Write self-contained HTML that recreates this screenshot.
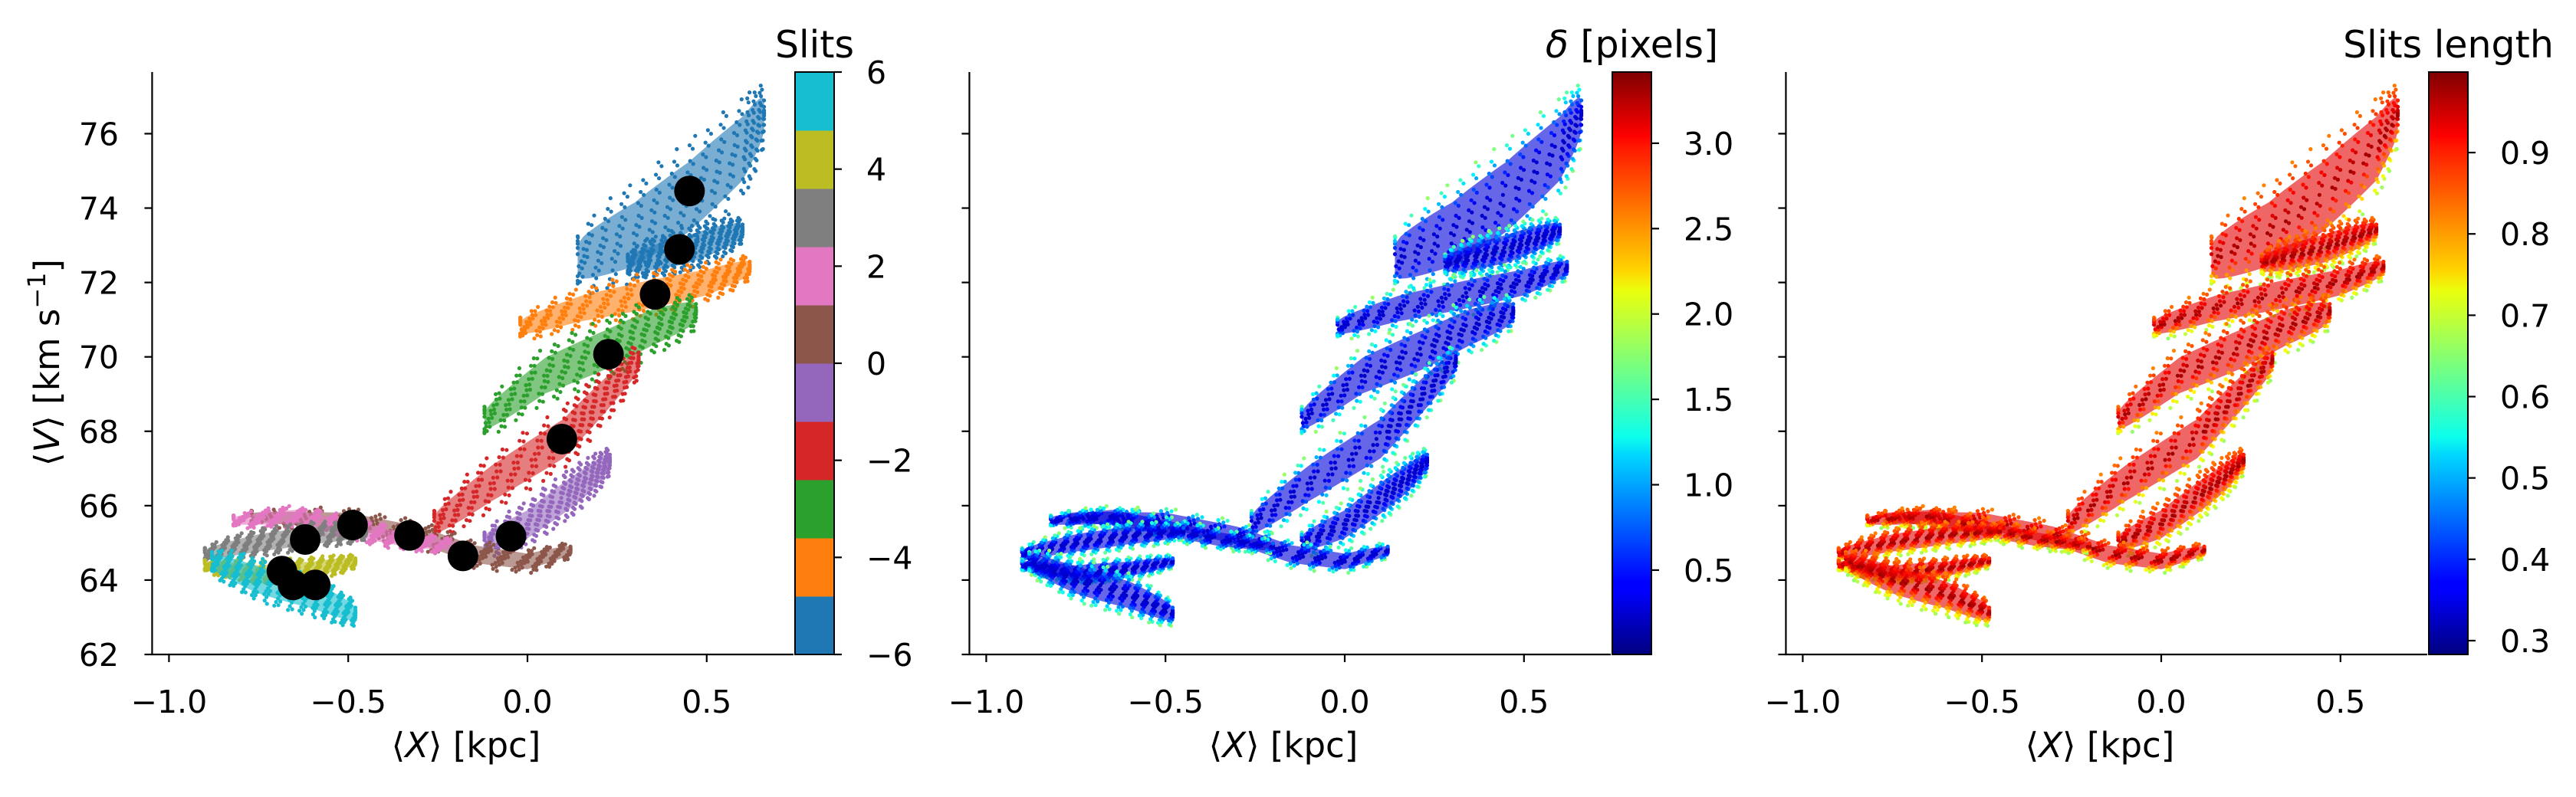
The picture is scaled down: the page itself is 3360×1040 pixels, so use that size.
<!DOCTYPE html>
<html><head><meta charset="utf-8"><title>Slits scatter panels</title>
<style>
html,body{margin:0;padding:0;background:#fff;}
svg{display:block;font-family:"DejaVu Sans","Liberation Sans",sans-serif;}
</style></head>
<body>
<svg id="fig" xmlns="http://www.w3.org/2000/svg" width="3360" height="1040" viewBox="0 0 3360 1040">
<defs>
<linearGradient id="jetgrad" x1="0" y1="1" x2="0" y2="0">
<stop offset="0" stop-color="#00007f"/><stop offset="0.11" stop-color="#0000ff"/><stop offset="0.125" stop-color="#0000ff"/>
<stop offset="0.34" stop-color="#00d4ff"/><stop offset="0.375" stop-color="#0dffeb"/><stop offset="0.5" stop-color="#7dff7a"/>
<stop offset="0.625" stop-color="#ebff0d"/><stop offset="0.66" stop-color="#ffd400"/><stop offset="0.875" stop-color="#ff1400"/>
<stop offset="0.89" stop-color="#ff0000"/><stop offset="1" stop-color="#7f0000"/>
</linearGradient>
</defs>
</svg>
<script>
// ---- data ----
const xTicks = [-1.0, -0.5, 0.0, 0.5];
const xTickLabels = ["\u22121.0", "\u22120.5", "0.0", "0.5"];
const yTicks = [62, 64, 66, 68, 70, 72, 74, 76];
const yTickLabels = ["62", "64", "66", "68", "70", "72", "74", "76"];
// band centerlines (kpc, km/s) and half widths (km/s)
const bandX = [
  [0.14, 0.30, 0.45, 0.60, 0.66],
  [0.28, 0.45, 0.60],
  [-0.02, 0.15, 0.35, 0.50, 0.62],
  [-0.12, 0.05, 0.22, 0.35, 0.47],
  [-0.26, -0.10, 0.10, 0.20, 0.31],
  [-0.12, 0.00, 0.10, 0.17, 0.23],
  [-0.77, -0.50, -0.30, -0.15, 0.00, 0.12],
  [-0.82, -0.65, -0.50, -0.35, -0.20],
  [-0.90, -0.75, -0.60, -0.45],
  [-0.90, -0.75, -0.60, -0.48],
  [-0.88, -0.75, -0.60, -0.48]
];
const bandV = [
  [72.6, 73.3, 74.3, 75.6, 76.5],
  [72.5, 72.9, 73.4],
  [70.8, 71.3, 71.7, 72.0, 72.4],
  [68.3, 69.5, 70.2, 70.8, 71.2],
  [65.5, 66.6, 67.8, 68.8, 69.9],
  [65.0, 65.5, 66.2, 66.7, 67.2],
  [65.7, 65.6, 65.2, 64.7, 64.5, 64.8],
  [65.6, 65.7, 65.4, 65.1, 64.9],
  [64.7, 65.0, 65.2, 65.3],
  [64.4, 64.2, 64.3, 64.5],
  [64.5, 64.0, 63.6, 63.1]
];
const bandHW = [1.25, 0.5, 0.5, 0.7, 0.7, 0.55, 0.32, 0.27, 0.32, 0.27, 0.5];
const bandColor = ["#1f77b4","#1f77b4","#ff7f0e","#2ca02c","#d62728","#9467bd","#8c564b","#e377c2","#7f7f7f","#bcbd22","#17becf"];
// median points
const medX = [0.452, 0.424, 0.356, 0.226, 0.096, -0.046, -0.180, -0.329, -0.488, -0.620, -0.685, -0.654, -0.592];
const medV = [74.46, 72.89, 71.68, 70.07, 67.79, 65.18, 64.65, 65.20, 65.48, 65.09, 64.24, 63.87, 63.87];
// colorbars
const slitTicks = [-6, -4, -2, 0, 2, 4, 6];
const slitTickLabels = ["\u22126", "\u22124", "\u22122", "0", "2", "4", "6"];
const slitColors = ["#1f77b4","#ff7f0e","#2ca02c","#d62728","#9467bd","#8c564b","#e377c2","#7f7f7f","#bcbd22","#17becf"];
const deltaTicks = [0.5, 1.0, 1.5, 2.0, 2.5, 3.0];
const deltaTickLabels = ["0.5", "1.0", "1.5", "2.0", "2.5", "3.0"];
const lenTicks = [0.3, 0.4, 0.5, 0.6, 0.7, 0.8, 0.9];
const lenTickLabels = ["0.3", "0.4", "0.5", "0.6", "0.7", "0.8", "0.9"];

// ---- layout ----
const NS = "http://www.w3.org/2000/svg";
const svg = document.getElementById('fig');
const X0 = [688, 1754, 2819];
const PXK = 467.6;
const YB = 854, PYV = 48.54;
const yPx = v => YB - (v - 62) * PYV;
function el(tag, attrs, parent) {
  const e = document.createElementNS(NS, tag);
  for (const k in attrs) e.setAttribute(k, attrs[k]);
  (parent || svg).appendChild(e);
  return e;
}
function jet(t) {
  t = Math.max(0, Math.min(1, t));
  const c = v => Math.round(255 * Math.max(0, Math.min(1, v)));
  return `rgb(${c(1.5 - Math.abs(4*t - 3))},${c(1.5 - Math.abs(4*t - 2))},${c(1.5 - Math.abs(4*t - 1))})`;
}
const frac = v => v - Math.floor(v);
const taper = t => 0.45 + 0.55 * Math.pow(Math.sin(Math.PI * Math.max(0, Math.min(1, t))), 0.5);

function bandPoint(b, t, off) {
  const xs = bandX[b], vs = bandV[b];
  const n = xs.length - 1;
  const tt = Math.max(0, Math.min(1, t));
  const s = tt * n, i = Math.min(n - 1, Math.floor(s)), f = s - i;
  const x = xs[i] + (xs[i+1] - xs[i]) * f;
  const v = vs[i] + (vs[i+1] - vs[i]) * f + off * bandHW[b] * taper(t);
  return [x, v];
}

for (let p = 0; p < 3; p++) {
  const x0 = X0[p];
  const xPx = x => x0 + x * PXK;
  const g = el('g', {});
  
  
  const sg = el('g', {}, g);
  
  
  for (let b = 0; b < bandX.length; b++) {
    let fill;
    if (p === 0) fill = bandColor[b];
    else if (p === 1) fill = jet(0.3 / 3.42);
    else fill = jet((0.93 - 0.283) / 0.716);
    let up = [], lo = [];
    for (let k = 0; k <= 40; k++) {
      const a = bandPoint(b, k / 40, 0.75), c = bandPoint(b, k / 40, -0.75);
      up.push(xPx(a[0]).toFixed(1) + ',' + yPx(a[1]).toFixed(1));
      lo.unshift(xPx(c[0]).toFixed(1) + ',' + yPx(c[1]).toFixed(1));
    }
    const poly = el('polygon', {points: up.concat(lo).join(' '), fill: fill, 'fill-opacity': 0.6}, sg);
    
    
    const N = 300;
    for (let i = 1; i <= N; i++) {
      const t = frac(0.5 + i * 0.7548776662) * 1.06 - 0.03;
      const u = frac(0.5 + i * 0.5698402910) * 2 - 1;
      const off = u * Math.abs(u) * 0.3 + u * 0.95;
      const pt = bandPoint(b, t, off);
      let col;
      if (p === 0) col = bandColor[b];
      else if (p === 1) col = jet((0.25 + 1.0 * off * off) / 3.42);
      else col = jet(((0.98 - 0.22 * Math.abs(off) * (off < 0 ? 1.2 : 0.6)) - 0.283) / 0.716);
      const d = el('circle', {cx: xPx(pt[0]).toFixed(1), cy: yPx(pt[1]).toFixed(1), r: 2.6, fill: col}, sg);
      
      
    }
  }
  if (p === 0) {
    for (let i = 0; i < medX.length; i++) {
      const m = el('circle', {cx: xPx(medX[i]), cy: yPx(medV[i]), r: 20, fill: '#000'}, g);
      
      
    }
  }
  const left = x0 - 1.047 * PXK, right = x0 + 347;
  const ax = el('g', {stroke: '#000', 'stroke-width': 2.2}, g);
  
  
  el('line', {x1: left, y1: 94, x2: left, y2: YB + 1}, ax);
  el('line', {x1: left - 1, y1: YB, x2: right, y2: YB}, ax);
  for (let i = 0; i < xTicks.length; i++) {
    const x = xPx(xTicks[i]);
    el('line', {x1: x, y1: YB, x2: x, y2: YB + 10}, ax);
    const t = el('text', {x: x, y: 930, 'font-size': 41, 'text-anchor': 'middle', fill: '#000', stroke: 'none'}, g);
    t.textContent = xTickLabels[i];
    
    
  }
  for (let i = 0; i < yTicks.length; i++) {
    const y = yPx(yTicks[i]);
    el('line', {x1: left - 10, y1: y, x2: left, y2: y}, ax);
    if (p === 0) {
      const t = el('text', {x: 155, y: y + 15, 'font-size': 41, 'text-anchor': 'end', fill: '#000'}, g);
      t.textContent = yTickLabels[i];
      
      
    }
  }
  const xl = el('text', {x: x0 - 80, y: 988, 'font-size': 45, 'text-anchor': 'middle', fill: '#000'}, g);
  xl.innerHTML = '\u27E8<tspan font-style="italic">X</tspan>\u27E9 [kpc]';
  
  
  if (p === 0) {
    const yl = el('text', {x: 0, y: 0, 'font-size': 45, 'text-anchor': 'middle', fill: '#000', transform: 'translate(77,473) rotate(-90)'}, g);
    yl.innerHTML = '\u27E8<tspan font-style="italic">V</tspan>\u27E9 [km s<tspan dy="-18" font-size="32">\u22121</tspan><tspan dy="18">]</tspan>';
    
    
  }
  const cbL = x0 + 349, cbR = x0 + 400, cbT = 94, cbB = YB;
  const cb = el('g', {}, g);
  
  
  let ticks, labels, vmin, vmax, title;
  if (p === 0) {
    for (let i = 0; i < slitColors.length; i++) {
      const h = (cbB - cbT) / slitColors.length;
      el('rect', {x: cbL, y: cbB - (i + 1) * h, width: cbR - cbL, height: h + 0.5, fill: slitColors[i]}, cb);
    }
    ticks = slitTicks; labels = slitTickLabels; vmin = -6; vmax = 6; title = 'Slits';
  } else if (p === 1) {
    el('rect', {x: cbL, y: cbT, width: cbR - cbL, height: cbB - cbT, fill: 'url(#jetgrad)'}, cb);
    ticks = deltaTicks; labels = deltaTickLabels; vmin = 0.006; vmax = 3.417; title = '\u03B4 [pixels]';
  } else {
    el('rect', {x: cbL, y: cbT, width: cbR - cbL, height: cbB - cbT, fill: 'url(#jetgrad)'}, cb);
    ticks = lenTicks; labels = lenTickLabels; vmin = 0.283; vmax = 0.999; title = 'Slits length';
  }
  el('rect', {x: cbL, y: cbT, width: cbR - cbL, height: cbB - cbT, fill: 'none', stroke: '#000', 'stroke-width': 2}, cb);
  for (let i = 0; i < ticks.length; i++) {
    const y = cbB - (ticks[i] - vmin) / (vmax - vmin) * (cbB - cbT);
    el('line', {x1: cbR, y1: y, x2: cbR + 10, y2: y, stroke: '#000', 'stroke-width': 2.2}, cb);
    const t = el('text', {x: cbR + 42, y: y + 15, 'font-size': 41, fill: '#000'}, cb);
    t.textContent = labels[i];
    
    
  }
  const tt = el('text', {x: (cbL + cbR) / 2, y: 75, 'font-size': 49, 'text-anchor': 'middle', fill: '#000'}, cb);
  if (p === 1) tt.innerHTML = '<tspan font-style="italic">\u03B4</tspan> [pixels]';
  else tt.textContent = title;
  
  
}
</script>
</body></html>
